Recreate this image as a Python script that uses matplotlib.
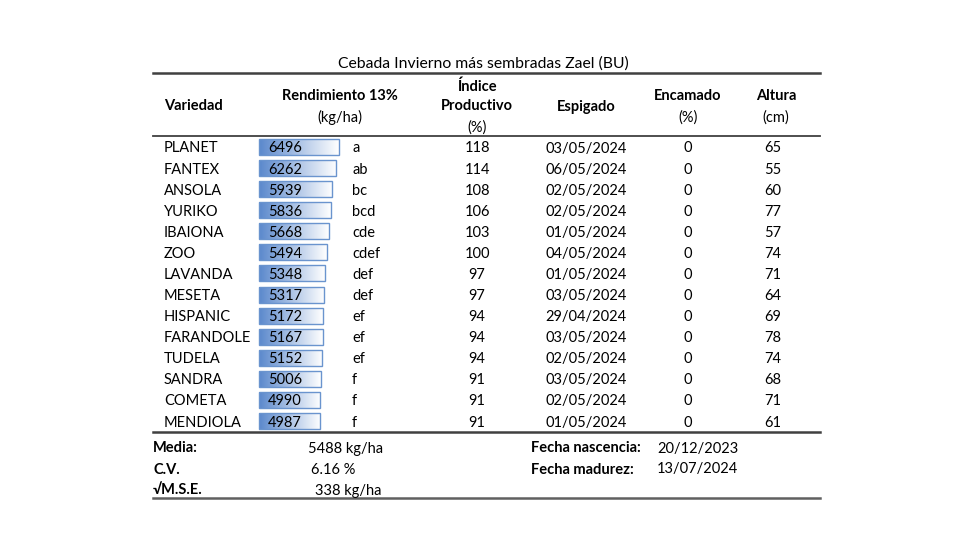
import numpy as np
import matplotlib.pyplot as plt
from matplotlib.colors import LinearSegmentedColormap

plt.rcParams['font.family'] = ['Lato', 'DejaVu Sans']

title = "Cebada Invierno más sembradas Zael (BU)"
variedad = ["PLANET", "FANTEX", "ANSOLA", "YURIKO", "IBAIONA", "ZOO", "LAVANDA",
            "MESETA", "HISPANIC", "FARANDOLE", "TUDELA", "SANDRA", "COMETA", "MENDIOLA"]
rendimiento = [6496, 6262, 5939, 5836, 5668, 5494, 5348, 5317, 5172, 5167, 5152, 5006, 4990, 4987]
letras = ["a", "ab", "bc", "bcd", "cde", "cdef", "def", "def", "ef", "ef", "ef", "f", "f", "f"]
indice = [118, 114, 108, 106, 103, 100, 97, 97, 94, 94, 94, 91, 91, 91]
espigado = ["03/05/2024", "06/05/2024", "02/05/2024", "02/05/2024", "01/05/2024", "04/05/2024",
            "01/05/2024", "03/05/2024", "29/04/2024", "03/05/2024", "02/05/2024", "03/05/2024",
            "02/05/2024", "01/05/2024"]
encamado = [0] * 14
altura = [65, 55, 60, 77, 57, 74, 71, 64, 69, 78, 74, 68, 71, 61]

media = "5488 kg/ha"
cv = "6.16 %"
mse = "338 kg/ha"
fecha_nascencia = "20/12/2023"
fecha_madurez = "13/07/2024"

fig = plt.figure(figsize=(9.8, 5.6), dpi=100)
ax = fig.add_axes([0, 0, 1, 1])
ax.axis('off')

fs = 10.5
x0, x1 = 153, 820
row0, dy = 147, 21.08
off = 1.5  # text baseline nudge


def txt(x, y, s, ha='left', bold=False, size=fs):
    ax.text(x, y + off, s, ha=ha, va='center', fontsize=size,
            fontweight='bold' if bold else 'normal', zorder=3)


txt(483, 62, title, ha='center', size=11.3)

# rules
ax.plot([x0, x1], [73, 73], color='#404040', lw=1.8)
ax.plot([x0, x1], [136, 136], color='#404040', lw=1.3)
ax.plot([x0, x1], [432, 432], color='#404040', lw=1.8)
ax.plot([x0, x1], [498, 498], color='#606060', lw=1.8)

# header
txt(164, 105, "Variedad", bold=True)
txt(340, 95, "Rendimiento 13%", ha='center', bold=True)
txt(340, 116, "(kg/ha)", ha='center')
txt(477, 85, "Índice", ha='center', bold=True)
txt(477, 105, "Productivo", ha='center', bold=True)
txt(477, 126, "(%)", ha='center')
txt(586, 105, "Espigado", ha='center', bold=True)
txt(688, 95, "Encamado", ha='center', bold=True)
txt(688, 116, "(%)", ha='center')
txt(776, 95, "Altura", ha='center', bold=True)
txt(776, 116, "(cm)", ha='center')

# data bars
cmap = LinearSegmentedColormap.from_list('bar', ['#5A88CC', '#FFFFFF'])
grad = np.linspace(0, 1, 256).reshape(1, -1)
bar_x, scale, bar_h = 259, 80.0 / max(rendimiento), 16

for i in range(len(variedad)):
    y = row0 + i * dy
    w = rendimiento[i] * scale
    ax.imshow(grad, cmap=cmap, aspect='auto', extent=[bar_x, bar_x + w, y + bar_h / 2, y - bar_h / 2],
              zorder=1, interpolation='bilinear')
    ax.add_patch(plt.Rectangle((bar_x, y - bar_h / 2), w, bar_h, fill=False,
                               edgecolor='#6A94CE', lw=1.0, zorder=2))
    txt(164, y, variedad[i])
    txt(268, y, str(rendimiento[i]))
    txt(352, y, letras[i])
    txt(477, y, str(indice[i]), ha='center')
    txt(586, y, espigado[i], ha='center')
    txt(688, y, str(encamado[i]), ha='center')
    txt(773, y, str(altura[i]), ha='center')

ax.set_xlim(0, 980)
ax.set_ylim(560, 0)

# footer
txt(153, 447, "Media:", bold=True)
txt(308, 447, media)
txt(153, 468, "C.V.", bold=True)
txt(311, 468, cv)
txt(153, 489, "√M.S.E.", bold=True)
txt(315, 489, mse)
txt(531, 447, "Fecha nascencia:", bold=True)
txt(657, 447, fecha_nascencia)
txt(531, 468, "Fecha madurez:", bold=True)
txt(657, 468, fecha_madurez)

fig.savefig("out.png", dpi=100, facecolor='white')
